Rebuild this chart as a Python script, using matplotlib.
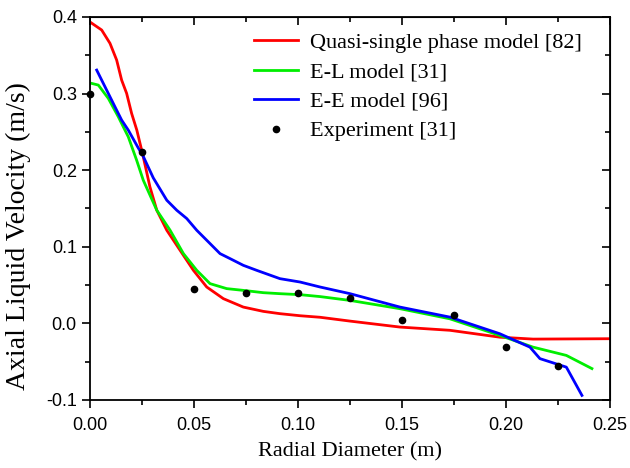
import matplotlib
matplotlib.use('Agg')
import matplotlib.pyplot as plt
from matplotlib.ticker import MultipleLocator

# --- donnees ---
red_x = [0.0005, 0.0056, 0.0096, 0.0128, 0.0152, 0.0176, 0.020, 0.0225, 0.0256, 0.0288,
         0.0321, 0.0369, 0.0433, 0.0497, 0.0561, 0.0641, 0.0737, 0.0833, 0.0913, 0.101,
         0.1106, 0.125, 0.149, 0.173, 0.197, 0.213, 0.25]
red_y = [0.3925, 0.383, 0.3656, 0.3438, 0.3176, 0.3003, 0.2741, 0.2523, 0.2174, 0.1782,
         0.1477, 0.1216, 0.0954, 0.0693, 0.0475, 0.0323, 0.0213, 0.0157, 0.0127, 0.0100,
         0.0080, 0.003, -0.0048, -0.009, -0.018, -0.0205, -0.020]

green_x = [0.0008, 0.004, 0.0088, 0.0136, 0.0184, 0.0224, 0.0256, 0.0321, 0.0385, 0.0449,
           0.0513, 0.0577, 0.0657, 0.0737, 0.0833, 0.0913, 0.101, 0.1106, 0.125, 0.149,
           0.173, 0.197, 0.213, 0.229, 0.2413]
green_y = [0.3133, 0.3111, 0.2937, 0.2697, 0.2435, 0.2131, 0.1869, 0.1477, 0.1216, 0.0911,
           0.0693, 0.0519, 0.0454, 0.0431, 0.0401, 0.0388, 0.0375, 0.0350, 0.030, 0.0192,
           0.006, -0.0157, -0.031, -0.0418, -0.059]

blue_x = [0.0032, 0.0072, 0.012, 0.0152, 0.0184, 0.0232, 0.0256, 0.0304, 0.0369, 0.0417,
          0.0465, 0.0513, 0.0577, 0.0625, 0.0673, 0.0737, 0.0801, 0.0913, 0.101, 0.1106,
          0.125, 0.149, 0.173, 0.197, 0.2115, 0.2163, 0.229, 0.2365]
blue_y = [0.3307, 0.3089, 0.2827, 0.2654, 0.2523, 0.2290, 0.2180, 0.1900, 0.1608, 0.1477,
          0.1369, 0.1216, 0.1042, 0.0911, 0.0846, 0.0758, 0.0693, 0.0584, 0.054, 0.0475,
          0.0388, 0.0213, 0.0082, -0.0135, -0.031, -0.046, -0.0571, -0.094]

exp_x = [0.0, 0.025, 0.05, 0.075, 0.10, 0.125, 0.15, 0.175, 0.20, 0.225]
exp_y = [0.300, 0.224, 0.045, 0.040, 0.040, 0.033, 0.005, 0.011, -0.031, -0.055]

serif = ['Liberation Serif', 'DejaVu Serif']
sans = ['Liberation Sans', 'DejaVu Sans']

fig = plt.figure(figsize=(6.3, 4.68), dpi=100)
ax = fig.add_axes([0.1429, 0.1453, 0.8254, 0.8184])

ax.plot(red_x, red_y, color='#ff0000', lw=2.0, label='Quasi-single phase model [82]')
ax.plot(green_x, green_y, color='#00ee00', lw=2.0, label='E-L model [31]')
ax.plot(blue_x, blue_y, color='#0000ff', lw=2.0, label='E-E model [96]')
ax.plot(exp_x, exp_y, 'o', color='black', ms=4.5, ls='none', label='Experiment [31]',
        clip_on=False)

ax.set_xlim(0, 0.25)
ax.set_ylim(-0.1, 0.4)
ax.xaxis.set_major_locator(MultipleLocator(0.05))
ax.xaxis.set_minor_locator(MultipleLocator(0.025))
ax.yaxis.set_major_locator(MultipleLocator(0.1))
ax.yaxis.set_minor_locator(MultipleLocator(0.05))
ax.xaxis.set_major_formatter(plt.FormatStrFormatter('%.2f'))
ax.yaxis.set_major_formatter(plt.FormatStrFormatter('%.1f'))

ax.tick_params(which='both', direction='out', width=1.2, labelsize=13)
ax.tick_params(which='major', length=6)
ax.tick_params(which='minor', length=3.5)
ax.tick_params(axis='x', pad=6)
for lbl in ax.get_xticklabels() + ax.get_yticklabels():
    lbl.set_family(sans)

# ticks miroir vers l'interieur en haut et a droite
sec_x = ax.secondary_xaxis('top')
sec_x.xaxis.set_major_locator(MultipleLocator(0.05))
sec_x.xaxis.set_minor_locator(MultipleLocator(0.025))
sec_x.tick_params(which='both', direction='in', labeltop=False, width=1.2)
sec_x.tick_params(which='major', length=6)
sec_x.tick_params(which='minor', length=3.5)
sec_y = ax.secondary_yaxis('right')
sec_y.yaxis.set_major_locator(MultipleLocator(0.1))
sec_y.yaxis.set_minor_locator(MultipleLocator(0.05))
sec_y.tick_params(which='both', direction='in', labelright=False, width=1.2)
sec_y.tick_params(which='major', length=6)
sec_y.tick_params(which='minor', length=3.5)

for s in ax.spines.values():
    s.set_linewidth(1.3)

ax.set_xlabel('Radial Diameter (m)', fontsize=16, family=serif, labelpad=6)
ax.set_ylabel('Axial Liquid Velocity (m/s)', fontsize=20, family=serif)
ax.yaxis.set_label_coords(-0.113, 0.428)

leg = ax.legend(loc='upper right', bbox_to_anchor=(0.975, 1.0), frameon=False,
                prop={'family': serif, 'size': 16},
                handlelength=2.0, handletextpad=0.5, labelspacing=0.4,
                borderaxespad=0.3, markerscale=1.0)

fig.savefig('out.png', dpi=100)
